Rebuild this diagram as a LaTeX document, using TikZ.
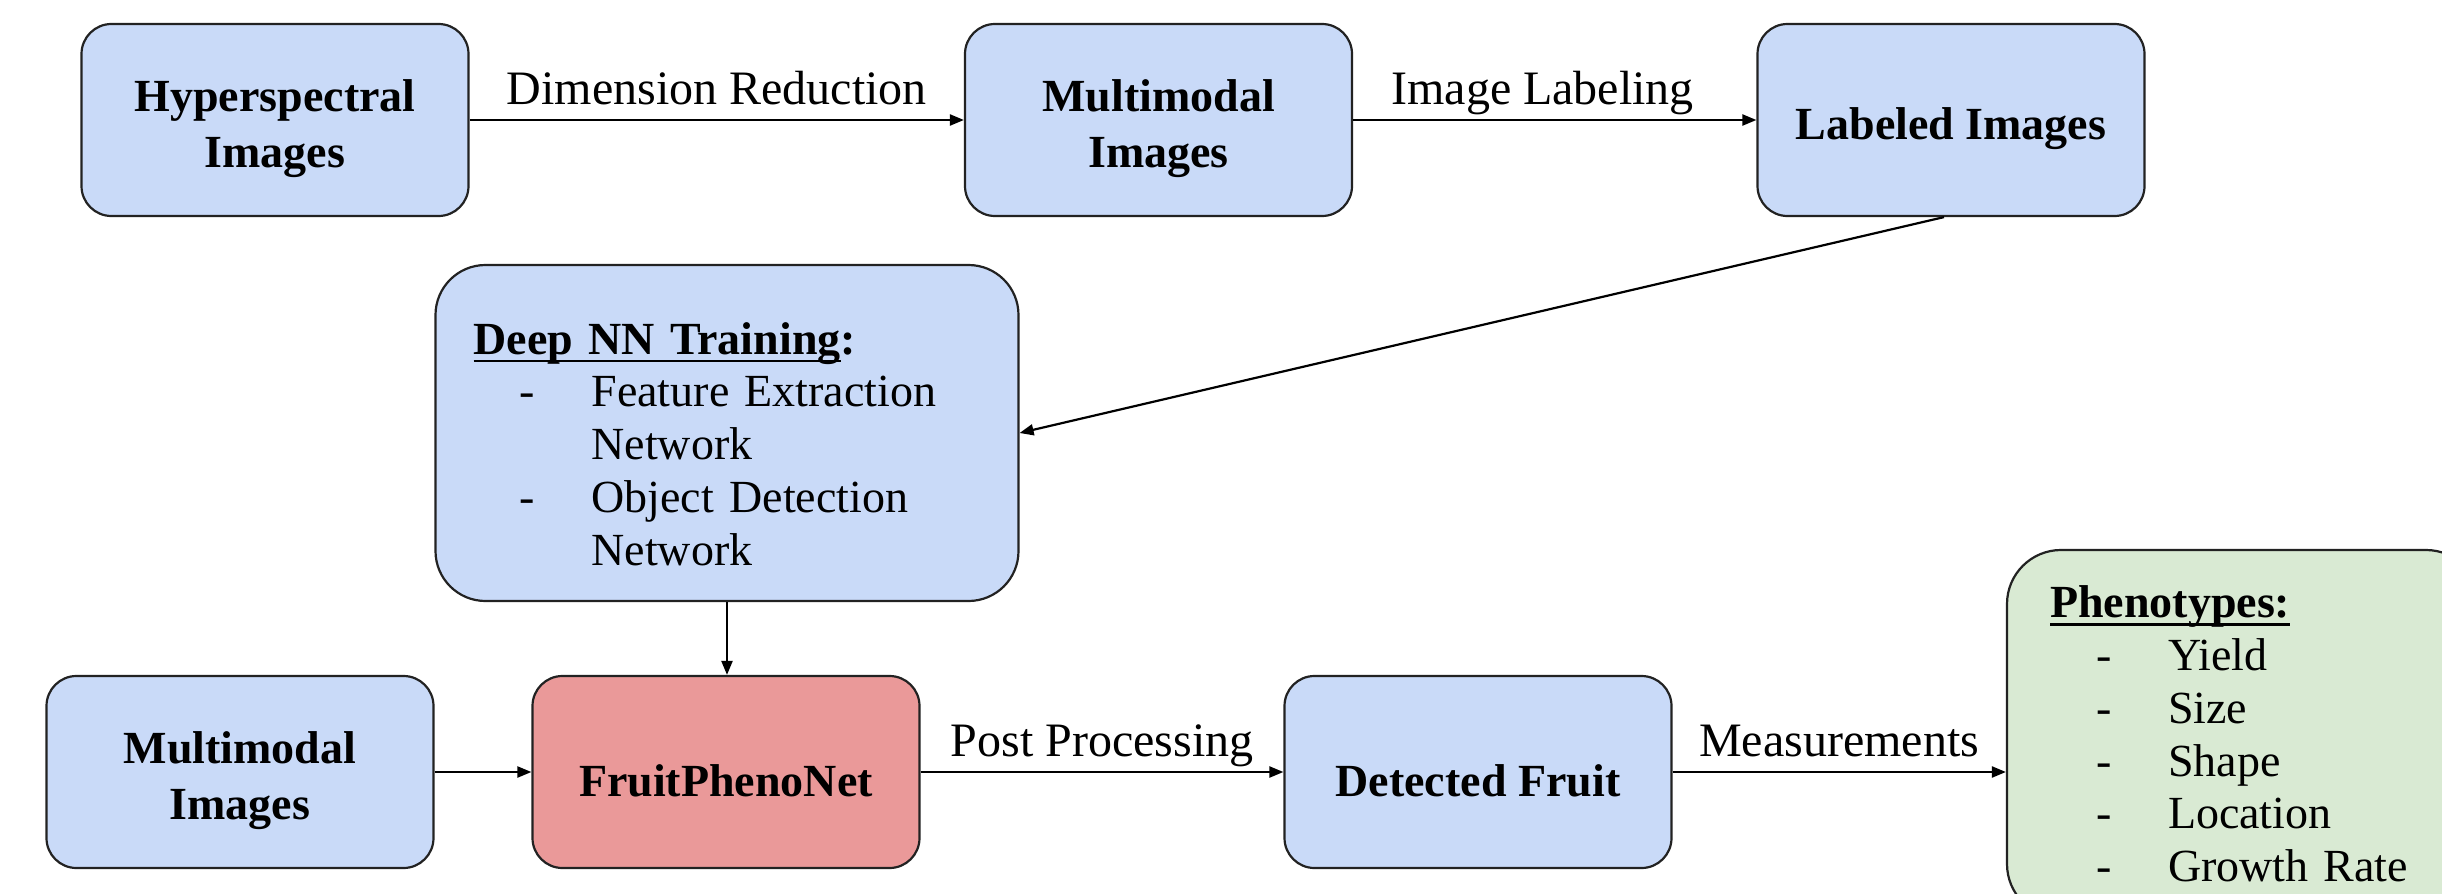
\documentclass[tikz,border=0pt]{standalone}
\usepackage{fontspec}
\setmainfont{Liberation Serif}
\usetikzlibrary{arrows.meta}

\definecolor{boxblue}{HTML}{C9DAF8}
\definecolor{boxred}{HTML}{EA9999}
\definecolor{boxgreen}{HTML}{D9EAD3}
\definecolor{edgegray}{HTML}{222222}

% heading with a thick underline
\newcommand\hdrline[1]{\setbox0\hbox{#1}\rlap{\rule[-4pt]{\wd0}{1.3pt}}\box0}
% one dashed list entry and its continuation line
\newcommand\dashitem[1]{\hspace*{23pt}\makebox[36pt][l]{-}#1}
\newcommand\contline[1]{\hspace*{59pt}#1}
% invisible strut that lowers a box's text a little
\newcommand\lowerstrut[1][25pt]{\rule{0pt}{#1}}

\begin{document}
\begin{tikzpicture}[x=0.5pt,y=-0.5pt,
  box/.style={draw=edgegray, line width=1.1pt, rounded corners=15pt, fill=boxblue,
              align=center, inner sep=0pt,
              minimum width=193.5pt, minimum height=96pt,
              font=\fontsize{23}{28}\selectfont\bfseries},
  listbox/.style={box, align=left, font=\fontsize{23}{26.4}\selectfont},
  arr/.style={draw=black, line width=1.1pt, -{Triangle[length=7pt,width=5.5pt]}},
  lbl/.style={font=\fontsize{24}{28}\selectfont, inner sep=0pt, text depth=0pt, above=7pt}]

\useasboundingbox (0,0) rectangle (2442,894);
\clip (0,0) rectangle (2442,894);

% top row
\node[box] (hyp) at (275,120) {\lowerstrut Hyperspectral\\Images};
\node[box] (mm1) at (1158.5,120) {\lowerstrut Multimodal\\Images};
\node[box] (lab) at (1951,120) {\lowerstrut Labeled Images};

% training box
\node[listbox, rounded corners=25pt, minimum height=168pt,
      text width=253.5pt, inner xsep=19pt] (dnn) at (727,433)
  {\lowerstrut[27pt]\textbf{\hdrline{Deep NN Training}:}\\
   \dashitem{Feature Extraction}\\
   \contline{Network}\\
   \dashitem{Object Detection}\\
   \contline{Network}};

% bottom row
\node[box] (mm2) at (240,772) {\lowerstrut Multimodal\\Images};
\node[box, fill=boxred] (fpn) at (726,772) {\lowerstrut FruitPhenoNet};
\node[box] (det) at (1478,772) {\lowerstrut Detected Fruit};

% phenotype list, running past the right and bottom edges
\node[listbox, fill=boxgreen, rounded corners=27pt, minimum height=184pt,
      text width=193.5pt, inner xsep=21.5pt] (phen) at (2243.5,734)
  {\textbf{\hdrline{Phenotypes:}}\\
   \dashitem{Yield}\\
   \dashitem{Size}\\
   \dashitem{Shape}\\
   \dashitem{Location}\\
   \dashitem{Growth Rate}};

% connectors
\draw[arr] (hyp) -- node[lbl]{Dimension Reduction} (mm1);
\draw[arr] (mm1) -- node[lbl, pos=0.47]{Image Labeling} (lab);
\draw[arr] ([xshift=-3.5pt]lab.south) -- (dnn.east);
\draw[arr] (dnn.south) -- (dnn.south |- fpn.north);
\draw[arr] (mm2) -- (fpn);
\draw[arr] (fpn) -- node[lbl]{Post Processing} (det);
\draw[arr] (det.east) -- node[lbl]{Measurements} (det.east -| phen.west);
\end{tikzpicture}
\end{document}
